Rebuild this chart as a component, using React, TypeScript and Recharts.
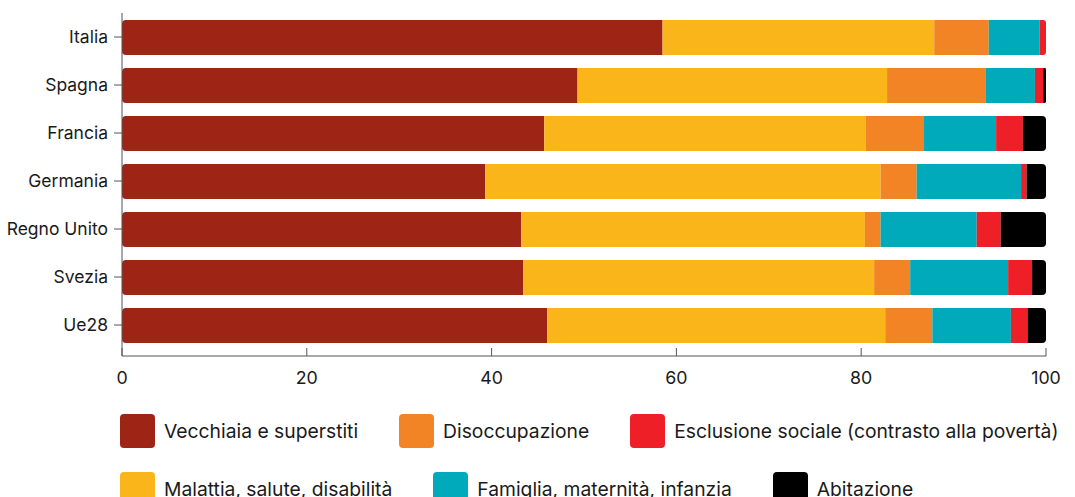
import React from 'react';
import { BarChart, Bar, XAxis, YAxis } from 'recharts';

const paesi = ['Italia', 'Spagna', 'Francia', 'Germania', 'Regno Unito', 'Svezia', 'Ue28'];
const vecchiaia = [58.5, 49.3, 45.7, 39.3, 43.2, 43.4, 46.0];
const malattia = [29.4, 33.5, 34.8, 42.8, 37.2, 38.0, 36.6];
const disoccupazione = [5.9, 10.7, 6.3, 3.9, 1.7, 3.9, 5.1];
const famiglia = [5.5, 5.3, 7.8, 11.3, 10.4, 10.6, 8.5];
const esclusione = [0.7, 0.9, 2.9, 0.6, 2.6, 2.6, 1.8];
const abitazione = [0, 0.3, 2.5, 2.1, 4.9, 1.5, 2.0];
const xTicks = [0, 20, 40, 60, 80, 100];

const serie = [
  { key: 'vecchiaia', label: 'Vecchiaia e superstiti', color: '#9E2416', values: vecchiaia },
  { key: 'malattia', label: 'Malattia, salute, disabilità', color: '#F9B51A', values: malattia },
  { key: 'disoccupazione', label: 'Disoccupazione', color: '#F38426', values: disoccupazione },
  { key: 'famiglia', label: 'Famiglia, maternità, infanzia', color: '#00AABA', values: famiglia },
  { key: 'esclusione', label: 'Esclusione sociale (contrasto alla povertà)', color: '#EE1F26', values: esclusione },
  { key: 'abitazione', label: 'Abitazione', color: '#000000', values: abitazione },
];

const data = paesi.map((paese, i) => {
  const row: Record<string, string | number> = { paese };
  serie.forEach((s) => {
    row[s.key] = s.values[i];
  });
  return row;
});

const legendRows = [
  ['vecchiaia', 'disoccupazione', 'esclusione'],
  ['malattia', 'famiglia', 'abitazione'],
];

const font = 'Inter, "Noto Sans", sans-serif';

function segPath(x: number, y: number, w: number, h: number, rl: number, rr: number) {
  rl = Math.min(rl, w / 2, h / 2);
  rr = Math.min(rr, w / 2, h / 2);
  return `M${x + rl},${y} H${x + w - rr} A${rr},${rr} 0 0 1 ${x + w},${y + rr} V${y + h - rr} A${rr},${rr} 0 0 1 ${x + w - rr},${y + h} H${x + rl} A${rl},${rl} 0 0 1 ${x},${y + h - rl} V${y + rl} A${rl},${rl} 0 0 1 ${x + rl},${y} Z`;
}

// rounds only the two ends of each row
const Segment = (props: any) => {
  const { x, y, width, height, fill, payload, k } = props;
  if (!width || width <= 0) return null;
  const nonZero = serie.filter((s) => Number(payload[s.key]) > 0).map((s) => s.key);
  const rl = nonZero[0] === k ? 4 : 0;
  const rr = nonZero[nonZero.length - 1] === k ? 4 : 0;
  return <path d={segPath(x, y, width, height, rl, rr)} fill={fill} />;
};

export default function App() {
  return (
    <div style={{ position: 'absolute', left: 0, top: 0, width: 1075, height: 497, background: '#fff', fontFamily: font, overflow: 'hidden' }}>
      <BarChart
        width={1075}
        height={395}
        data={data}
        layout="vertical"
        margin={{ top: 13, right: 29, left: 0, bottom: 0 }}
        barSize={35}
      >
        <XAxis
          type="number"
          domain={[0, 100]}
          ticks={xTicks}
          height={39}
          tickSize={-8}
          tickMargin={23}
          stroke="#555"
          tick={{ fill: '#1a1a1a', fontSize: 17.8, fontFamily: font }}
        />
        <YAxis
          type="category"
          dataKey="paese"
          width={122}
          padding={{ top: 0, bottom: 7 }}
          tickSize={8}
          tickMargin={6}
          stroke="#555"
          tick={{ fill: '#1a1a1a', fontSize: 17.5, fontFamily: font }}
        />
        {serie.map((s) => (
          <Bar
            key={s.key}
            dataKey={s.key}
            stackId="a"
            fill={s.color}
            isAnimationActive={false}
            shape={(p: any) => <Segment {...p} k={s.key} />}
          />
        ))}
      </BarChart>
      {legendRows.map((row, ri) => (
        <div
          key={ri}
          style={{ position: 'absolute', left: 120, top: 414 + ri * 58, display: 'flex', alignItems: 'center', gap: 41 }}
        >
          {row.map((k) => {
            const s = serie.find((d) => d.key === k)!;
            return (
              <div key={k} style={{ display: 'flex', alignItems: 'center' }}>
                <div style={{ width: 35, height: 34, borderRadius: 4, background: s.color, marginRight: 9 }} />
                <span style={{ fontSize: 19.3, color: '#1a1a1a', whiteSpace: 'nowrap' }}>{s.label}</span>
              </div>
            );
          })}
        </div>
      ))}
    </div>
  );
}
